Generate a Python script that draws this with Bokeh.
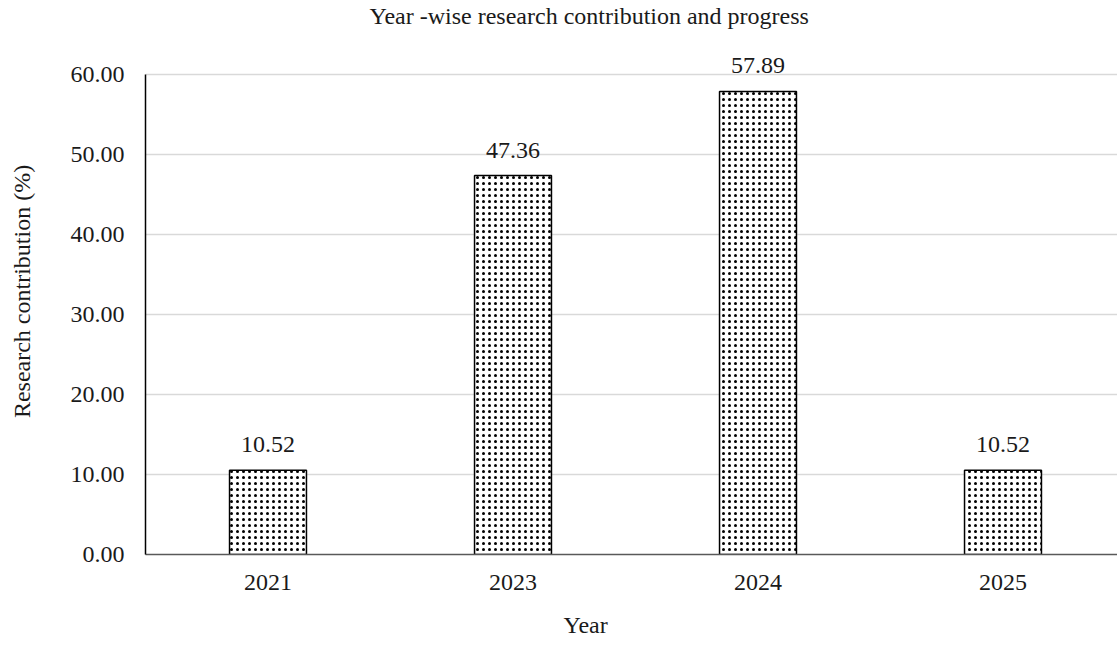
from bokeh.plotting import figure
from bokeh.models import Range1d, FixedTicker, NumeralTickFormatter, ColumnDataSource, Title
from bokeh.core.properties import value
from bokeh.embed import file_html
from bokeh.resources import INLINE

years = ["2021", "2023", "2024", "2025"]
contribution = [10.52, 47.36, 57.89, 10.52]
value_labels = ["10.52", "47.36", "57.89", "10.52"]
y_ticks = [0, 10, 20, 30, 40, 50, 60]

idx = list(range(len(years)))
src = ColumnDataSource(dict(x=idx, top=contribution, lab=value_labels))

FONT = "Liberation Serif"
TXT = "#1a1a1a"

p = figure(width=1117, height=654, output_backend="svg", toolbar_location=None,
           x_range=Range1d(-0.5, -0.5 + 972 / 245), y_range=Range1d(0, 65.75),
           min_border_left=145, min_border_right=0, min_border_top=0, min_border_bottom=100)
p.outline_line_color = None
p.background_fill_color = "white"
p.border_fill_color = "white"

p.vbar(x="x", top="top", width=0.314, bottom=0, source=src, fill_color="white",
       line_color="black", line_width=1.5, hatch_pattern="dot", hatch_color="black",
       hatch_scale=6, hatch_weight=2)

p.text(x="x", y="top", text="lab", source=src, text_align="center", text_baseline="bottom",
       y_offset=-18, text_font=value(FONT), text_font_size="24px", text_color=TXT)

# axes
p.xaxis.ticker = FixedTicker(ticks=idx)
p.xaxis.major_label_overrides = {i: y for i, y in enumerate(years)}
p.yaxis.ticker = FixedTicker(ticks=y_ticks)
p.yaxis.formatter = NumeralTickFormatter(format="0.00")
p.yaxis.bounds = (0, 60)
for ax in (p.xaxis, p.yaxis):
    ax.major_tick_line_color = None
    ax.minor_tick_line_color = None
    ax.major_label_text_font = FONT
    ax.major_label_text_font_size = "24px"
    ax.major_label_text_color = TXT
    ax.axis_label_text_font = FONT
    ax.axis_label_text_font_size = "24px"
    ax.axis_label_text_font_style = "normal"
    ax.axis_label_text_color = TXT
p.xaxis.major_label_standoff = 14
p.yaxis.major_label_standoff = 15
p.xaxis.axis_line_color = "#595959"
p.xaxis.axis_line_width = 1.5
p.yaxis.axis_line_color = "black"
p.yaxis.axis_line_width = 1.5
p.yaxis.axis_label = "Research contribution (%)"
p.yaxis.axis_label_standoff = 33

p.xgrid.grid_line_color = None
p.ygrid.ticker = FixedTicker(ticks=y_ticks)
p.ygrid.grid_line_color = "#d9d9d9"
p.ygrid.grid_line_width = 1.5

title = Title(text="Year -wise research contribution and progress", align="left", offset=224,
              standoff=0, text_font=FONT, text_font_size="24px", text_font_style="normal",
              text_color=TXT)
p.add_layout(title, "above")

xlab = Title(text="Year", align="left", offset=418, standoff=34,
             text_font=FONT, text_font_size="24px", text_font_style="normal", text_color=TXT)
p.add_layout(xlab, "below")

open("out.html", "w").write(file_html(p, INLINE))
